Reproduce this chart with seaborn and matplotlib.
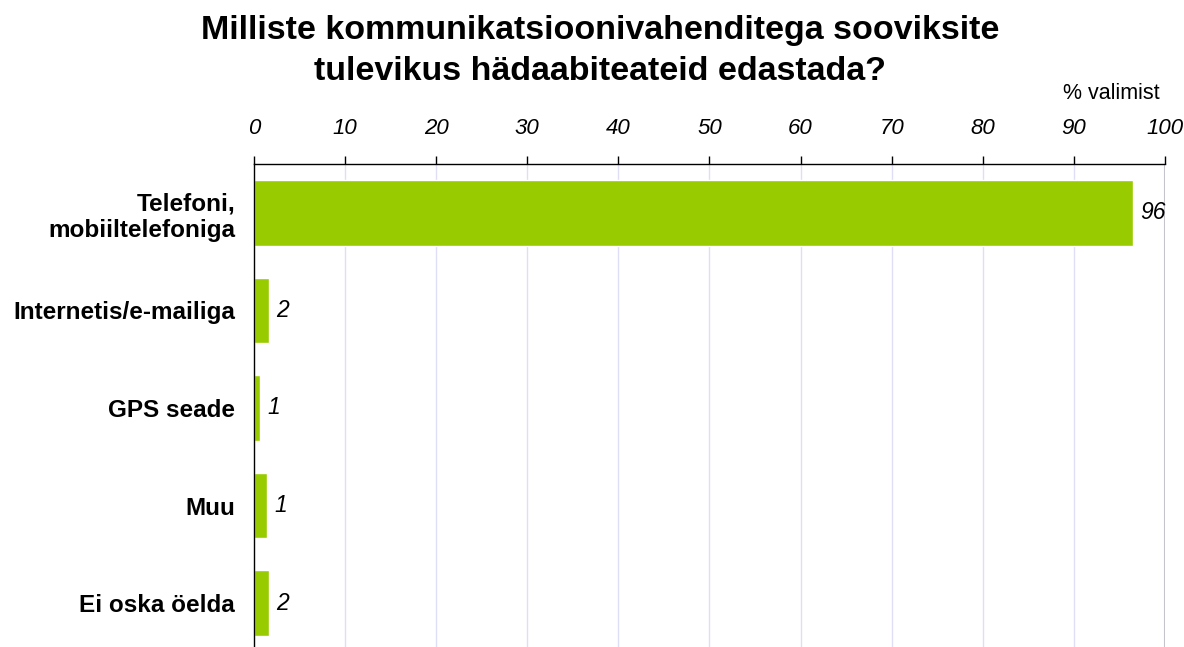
import numpy as np
import pandas as pd
import matplotlib
matplotlib.use("Agg")
import matplotlib.pyplot as plt
import seaborn as sns

# === Andmed ===
kategooriad = ["Telefoni,\nmobiiltelefoniga", "Internetis/e-mailiga", "GPS seade", "Muu", "Ei oska öelda"]
vaartused = [96.5, 1.6, 0.7, 1.4, 1.6]
sildid = ["96", "2", "1", "1", "2"]
x_ticks = [0, 10, 20, 30, 40, 50, 60, 70, 80, 90, 100]

df = pd.DataFrame({"kategooria": kategooriad, "protsent": vaartused})

sns.set_style("white")
plt.rcParams["font.family"] = ["Liberation Sans", "DejaVu Sans"]
plt.rcParams["text.color"] = "black"
plt.rcParams["xtick.color"] = "black"
plt.rcParams["ytick.color"] = "black"
plt.rcParams["axes.labelcolor"] = "black"

fig = plt.figure(figsize=(11.84, 6.47), dpi=100)
ax = fig.add_axes([0.2145, -0.0077, 0.7694, 0.7542])

# ruudustik
for t in x_ticks[1:-1]:
    ax.axvline(t, color="#dedef6", lw=1, zorder=0)
ax.axvline(100, color="#c4c4cc", lw=1.5, zorder=0)

sns.barplot(data=df, x="protsent", y="kategooria", orient="h", color="#99CC00",
            width=0.67, saturation=1, ax=ax, zorder=2)

ax.set_xlim(0, 100)
ax.set_ylim(4.5, -0.5)
ax.set_xlabel("")
ax.set_ylabel("")

# x-telg üleval
ax.xaxis.tick_top()
ax.set_xticks(x_ticks)
ax.set_xticklabels([str(t) for t in x_ticks], fontstyle="italic", fontsize=16)
ax.tick_params(axis="x", direction="out", length=6, width=1, pad=12, colors="black")

# y-telje sildid ja vahejoonte tickid
ax.set_yticks(range(len(kategooriad)))
ax.set_yticklabels(kategooriad, fontweight="bold", fontsize=17.5, linespacing=1.2)
ax.tick_params(axis="y", which="major", length=0, pad=13.5)
ax.set_yticks(np.arange(-0.5, len(kategooriad) - 0.5, 1), minor=True)
ax.tick_params(axis="y", which="minor", direction="out", length=7, width=1, color="#333333")

for s in ["right", "bottom"]:
    ax.spines[s].set_visible(False)
ax.spines["left"].set_color("black")
ax.spines["top"].set_color("black")
ax.spines["left"].set_linewidth(1)
ax.spines["top"].set_linewidth(1)

# väärtuste sildid
for i, (v, s) in enumerate(zip(vaartused, sildid)):
    ax.text(v + 0.8, i, s, va="center", ha="left", fontstyle="italic", fontsize=16.5)

fig.text(0.507, 0.921, "Milliste kommunikatsioonivahenditega sooviksite\ntulevikus hädaabiteateid edastada?",
         ha="center", va="center", fontsize=24.5, fontweight="bold", linespacing=1.42)
fig.text(0.939, 0.855, "% valimist", ha="center", va="center", fontsize=15.5)

fig.savefig("out.png", dpi=100)
